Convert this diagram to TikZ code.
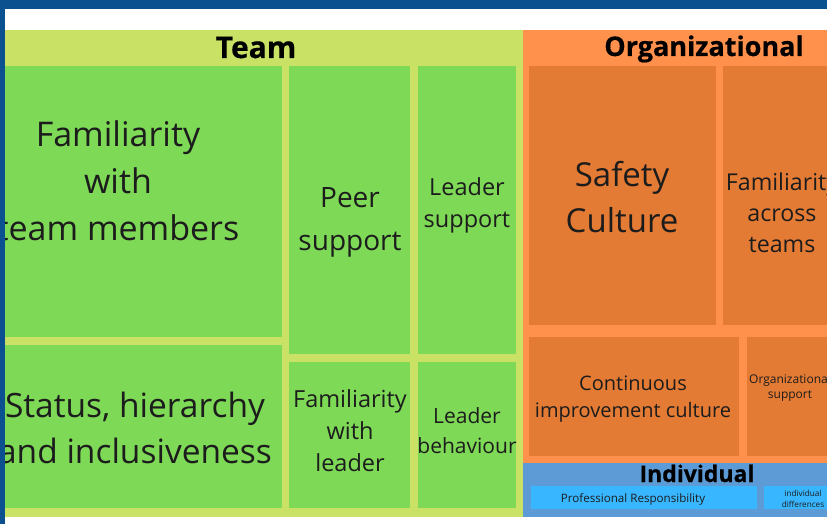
\documentclass[tikz,border=0pt]{standalone}
\usepackage{fontspec}
\setmainfont{Open Sans}
\newfontfamily\heavyfont[BoldFeatures={FakeBold=0.5}]{Open Sans}
\usepackage{tikz}
\definecolor{tmBlue}{RGB}{11,80,143}
\definecolor{tmLime}{RGB}{201,226,101}
\definecolor{tmGreen}{RGB}{126,217,87}
\definecolor{tmOrange}{RGB}{255,145,77}
\definecolor{tmRust}{RGB}{228,123,52}
\definecolor{tmSteel}{RGB}{92,155,214}
\definecolor{tmSky}{RGB}{56,182,255}
\definecolor{tmInk}{RGB}{28,28,28}

\begin{document}
\begin{tikzpicture}[x=1pt, y=-1pt]%
  \tikzset{green cell/.style={fill=tmGreen},
    rust cell/.style={fill=tmRust},
    sky cell/.style={fill=tmSky},
    header/.style={text=black, font=\heavyfont\bfseries\fontsize{#1}{#1}\selectfont},
    cell text/.style 2 args={text=tmInk, font=\fontsize{#1}{#2}\selectfont}}
  \tikzstyle{every node}=[draw=none, inner sep=0pt, outer sep=0pt, align=center, anchor=base]

  \useasboundingbox (0,0) rectangle (827,524);
  \fill[white] (0,0) rectangle (827,524);
  \fill[tmBlue] (0,0) rectangle (827,9);
  \fill[tmBlue] (0,0) rectangle (5,524);

  \begin{scope}
    \clip (5,9) rectangle (827,524);
    % three groups
    \fill[tmLime] (5,30) rectangle (523,517);
    \fill[tmOrange] (523,30) rectangle (827,463);
    \fill[tmSteel] (523,463) rectangle (827,517);

    \fill[green cell] (5,66) rectangle (282,337);
    \fill[green cell] (5,345) rectangle (282,508);
    \fill[green cell] (289,66) rectangle (410,354);
    \fill[green cell] (418,66) rectangle (516,354);
    \fill[green cell] (289,362) rectangle (410,508);
    \fill[green cell] (418,362) rectangle (516,508);

    \fill[rust cell] (529,66) rectangle (716,325);
    \fill[rust cell] (723,66) rectangle (840,325);
    \fill[rust cell] (529,337) rectangle (739,456);
    \fill[rust cell] (747,337) rectangle (840,456);

    \fill[sky cell] (531,486) rectangle (757,509);
    \fill[sky cell] (764,486) rectangle (840,509);

    \node[header=30] (team) at (256,58) {Team};
    \node[header=27] (org) at (704,56) {Organizational};
    \node[header=23] (indiv) at (697,482) {Individual};

    % base anchor sits on the last line
    \node[cell text={34}{47}] (famTeam) at (118,240) {Familiarity\\with\\team members};
    \node[cell text={33.5}{46}] (status) at (135,463) {Status, hierarchy\\and inclusiveness};
    \node[cell text={28}{43}] (peer) at (350,250) {Peer\\support};
    \node[cell text={23.5}{32}] (leaderSup) at (467,227) {Leader\\support};
    \node[cell text={23.5}{32}] (famLeader) at (350,471) {Familiarity\\with\\leader};
    \node[cell text={21}{30}] (leaderBeh) at (467,453) {Leader\\behaviour};

    \node[cell text={33}{46}] (safety) at (622,232) {Safety\\Culture};
    \node[cell text={23.2}{31}] (famAcross) at (782,252) {Familiarity\\across\\teams};
    \node[cell text={20}{27}] (contImp) at (633,417) {Continuous\\improvement culture};
    \node[cell text={12}{15}] (orgSup) at (790,398) {Organizational\\support};

    \node[cell text={11.6}{15}] (profResp) at (633,502) {Professional Responsibility};
    \node[cell text={8.2}{11}] (indDiff) at (803,507) {individual\\differences};
  \end{scope}
\end{tikzpicture}
\end{document}
